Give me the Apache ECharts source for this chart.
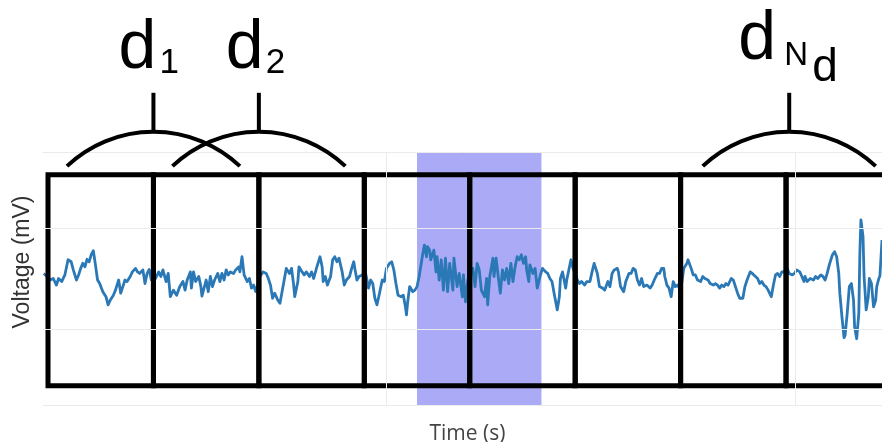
<!DOCTYPE html>
<html><head><meta charset="utf-8">
<script src="https://cdn.jsdelivr.net/npm/echarts@6/dist/echarts.min.js"></script>
<style>html,body{margin:0;padding:0;background:#fff}#c{width:882px;height:442px}</style>
</head><body><div id="c"></div>
<script>
// ---- data (time in s, voltage in mV) ----
const time = [
-0.04,-0.01,0.02,0.05,0.08,0.10,0.13,0.16,0.19,0.22,
0.24,0.27,0.29,0.31,0.33,0.35,0.37,0.39,0.41,0.43,
0.45,0.47,0.49,0.52,0.55,0.57,0.59,0.62,0.64,0.67,
0.69,0.71,0.73,0.75,0.78,0.80,0.83,0.85,0.87,0.90,
0.92,0.94,0.96,0.98,1.02,1.05,1.07,1.09,1.12,1.14,
1.16,1.19,1.22,1.25,1.28,1.30,1.32,1.35,1.36,1.38,
1.40,1.43,1.45,1.46,1.48,1.50,1.52,1.54,1.56,1.58,
1.61,1.63,1.65,1.67,1.69,1.71,1.73,1.76,1.78,1.81,
1.82,1.84,1.86,1.89,1.91,1.93,1.95,1.97,2.01,2.04,
2.07,2.09,2.11,2.13,2.15,2.18,2.20,2.22,2.24,2.26,
2.29,2.31,2.33,2.34,2.37,2.38,2.41,2.43,2.45,2.48,
2.50,2.52,2.55,2.58,2.60,2.61,2.63,2.65,2.68,2.70,
2.72,2.74,2.76,2.79,2.81,2.83,2.86,2.88,2.90,2.91,
2.93,2.95,2.98,3.01,3.04,3.06,3.08,3.10,3.12,3.14,
3.17,3.19,3.21,3.24,3.26,3.28,3.30,3.32,3.35,3.37,
3.39,3.40,3.41,3.43,3.46,3.48,3.50,3.52,3.55,3.57,
3.59,3.60,3.62,3.63,3.66,3.68,3.69,3.71,3.73,3.75,
3.77,3.79,3.81,3.84,3.85,3.88,3.90,3.93,3.94,3.96,
3.98,4.00,4.03,4.05,4.07,4.09,4.11,4.14,4.16,4.17,
4.19,4.22,4.23,4.25,4.27,4.29,4.31,4.33,4.35,4.37,
4.39,4.41,4.43,4.45,4.47,4.49,4.51,4.53,4.54,4.56,
4.57,4.60,4.62,4.64,4.67,4.69,4.72,4.74,4.76,4.78,
4.80,4.83,4.85,4.86,4.88,4.91,4.92,4.95,4.96,4.98,
5.02,5.04,5.06,5.09,5.11,5.14,5.16,5.18,5.21,5.23,
5.26,5.28,5.31,5.33,5.35,5.37,5.40,5.41,5.43,5.46,
5.48,5.51,5.53,5.55,5.57,5.59,5.61,5.63,5.65,5.68,
5.71,5.73,5.75,5.78,5.80,5.82,5.84,5.85,5.87,5.89,
5.91,5.93,5.95,5.97,5.99,6.01,6.03,6.06,6.07,6.10,
6.12,6.14,6.16,6.19,6.21,6.23,6.26,6.28,6.31,6.33,
6.35,6.37,6.39,6.41,6.43,6.45,6.48,6.50,6.52,6.54,
6.56,6.59,6.61,6.63,6.66,6.68,6.71,6.73,6.75,6.77,
6.79,6.81,6.83,6.86,6.88,6.90,6.92,6.94,6.96,6.98,
7.01,7.03,7.06,7.08,7.10,7.13,7.15,7.17,7.18,7.20,
7.23,7.26,7.28,7.30,7.33,7.35,7.37,7.39,7.41,7.44,
7.46,7.48,7.50,7.51,7.53,7.55,7.56,7.58,7.60,7.62,
7.64,7.65,7.67,7.69,7.70,7.71,7.73,7.74,7.76,7.78,
7.79,7.81,7.83,7.85,7.86,7.88,7.89,7.91
];
const voltage = [
0.10,0.04,-0.03,0.00,-0.13,0.00,-0.06,0.07,0.37,0.33,
0.17,-0.03,0.07,0.20,0.30,0.23,0.38,0.33,0.47,0.55,
0.27,-0.03,-0.10,-0.26,-0.36,-0.52,-0.43,-0.33,-0.23,-0.03,
-0.29,-0.16,-0.03,-0.06,0.04,0.13,0.20,0.13,0.10,0.17,
-0.10,0.10,0.18,-0.03,0.00,0.13,0.04,0.17,-0.06,0.10,
-0.36,-0.23,-0.33,-0.16,-0.06,-0.23,-0.03,0.13,-0.19,0.13,
-0.06,0.04,-0.16,-0.35,-0.19,-0.03,-0.26,0.04,-0.16,-0.03,
0.10,-0.06,0.10,-0.03,0.17,0.07,0.13,0.10,0.17,0.23,
0.13,0.43,0.07,-0.06,0.00,-0.19,-0.13,-0.26,0.04,0.13,
0.10,0.00,-0.13,-0.39,-0.29,-0.43,-0.49,-0.26,-0.03,0.20,
0.10,0.20,-0.13,-0.36,-0.06,0.23,0.13,0.07,0.13,0.04,
0.13,0.00,0.23,0.43,0.23,-0.06,0.04,-0.13,0.04,0.37,
0.43,0.33,0.40,0.13,-0.13,-0.03,0.04,0.20,0.33,0.20,
-0.03,0.04,0.07,0.13,-0.19,-0.03,-0.10,-0.39,-0.52,-0.33,
-0.03,-0.06,0.20,0.30,0.33,0.17,-0.10,-0.33,-0.36,-0.33,
-0.56,-0.72,-0.49,-0.16,-0.26,-0.23,-0.16,0.04,0.43,0.66,
0.43,0.63,0.56,0.37,0.56,0.13,0.43,-0.03,0.37,-0.23,
0.40,-0.26,0.30,-0.23,0.40,-0.16,0.10,-0.36,0.07,-0.46,
-0.06,0.17,0.20,-0.16,0.30,0.17,-0.23,-0.36,0.00,-0.52,
0.04,0.40,0.04,0.40,0.04,-0.29,0.17,-0.03,0.20,-0.10,
0.30,-0.06,0.23,0.43,0.37,0.47,0.30,0.43,0.17,-0.06,
0.27,0.10,0.20,-0.19,0.07,0.20,0.13,0.10,0.00,-0.06,
-0.29,-0.62,-0.36,0.00,0.13,-0.19,-0.03,0.27,0.37,0.20,
-0.03,-0.10,-0.06,-0.13,-0.06,-0.06,0.13,0.30,0.10,-0.16,
-0.19,-0.23,-0.06,-0.16,0.10,0.17,0.20,0.13,-0.16,-0.26,
-0.06,0.10,0.10,0.20,0.17,-0.03,-0.13,0.00,-0.16,-0.13,
-0.19,-0.13,-0.03,0.10,0.10,0.20,0.20,0.04,-0.13,-0.19,
-0.36,-0.06,-0.16,-0.13,-0.19,-0.10,0.20,0.30,0.37,0.20,
0.07,0.07,-0.03,-0.06,0.04,0.00,-0.03,-0.10,-0.13,-0.10,
-0.13,-0.19,-0.13,-0.16,-0.10,-0.13,0.00,-0.03,-0.16,-0.29,
-0.39,-0.39,-0.16,-0.03,0.13,0.10,0.04,0.00,-0.10,-0.06,
-0.13,-0.16,-0.23,-0.36,-0.13,0.07,0.10,0.04,0.13,0.13,
0.20,0.10,0.07,0.10,0.17,0.13,0.04,-0.06,0.04,-0.06,
0.00,-0.03,0.04,0.00,0.07,0.04,-0.03,0.10,0.27,0.47,
0.53,0.43,0.10,-0.29,-0.76,-1.17,-1.12,-0.69,-0.16,-0.10,
-0.43,-0.95,-1.19,-0.69,0.50,1.16,0.83,0.04,-0.62,-0.36,
0.00,-0.10,-0.56,-0.43,-0.16,0.00,0.05,0.76
];
const windowStarts = [0, 1, 2, 3, 4, 5, 6, 7];   // s
const windowLength = 1;                          // s
const highlightSpan = [3.5, 4.68];               // s
const gridTimes = [3.21, 7.09];                  // s
const gridVolts = [-2.5, -1, 1, 2.5];            // mV
const bracketCenters = [1.0, 2.0, 7.03];         // s
const bracketLabels = [['d', '1'], ['d', '2'], ['d', 'N', 'd']];
const xTitle = 'Time (s)';
const yTitle = 'Voltage (mV)';

// ---- geometry / style (not data) ----
const WIN_TOP = 2.05, WIN_BOTTOM = -2.12;
const BR_HALF = 0.82, BR_END = 2.22, BR_PEAK = 2.90, BR_STEM = 3.67;
const labelLayout = [
  [{dx: -35, dy: -21, size: 68}, {dx: 6, dy: -18, size: 35}],
  [{dx: -33, dy: -21, size: 68}, {dx: 7, dy: -18, size: 35}],
  [{dx: -51, dy: -30, size: 68}, {dx: -5, dy: -26, size: 33}, {dx: 23, dy: -9, size: 46}]
];
const FAMILY = 'Liberation Sans';

const chart = echarts.init(document.getElementById('c'), null, {renderer: 'canvas'});
const signal = time.map((t, i) => [t, voltage[i]]);

chart.setOption({
  animation: false,
  backgroundColor: '#fff',
  grid: {left: 42.73, right: 0, top: 152, bottom: 37, containLabel: false, outerBoundsMode: 'none'},
  xAxis: {
    type: 'value', min: -0.05, max: 7.91,
    axisLine: {show: false}, axisTick: {show: false}, axisLabel: {show: false}, splitLine: {show: false},
    name: xTitle, nameLocation: 'middle', nameGap: 19,
    nameTextStyle: {fontFamily: 'Open Sans', fontSize: 21, color: '#444', padding: [0, 0, 0, 10]}
  },
  yAxis: {
    type: 'value', min: -2.5, max: 2.5,
    axisLine: {show: false}, axisTick: {show: false}, axisLabel: {show: false}, splitLine: {show: false}
  },
  graphic: [{
    type: 'text', x: 23, y: 262, rotation: Math.PI / 2,
    style: {text: yTitle, fontFamily: FAMILY, fontSize: 23, fill: '#333', align: 'center', verticalAlign: 'middle'}
  }],
  series: [
    {
      type: 'line', data: [], z: 1, silent: true,
      markLine: {
        silent: true, symbol: ['none', 'none'], label: {show: false},
        lineStyle: {color: '#ebebeb', width: 1, type: 'solid'},
        data: gridTimes.map(t => ({xAxis: t})).concat(gridVolts.map(v => ({yAxis: v})))
      }
    },
    {
      type: 'line', data: [], z: 2, silent: true,
      markArea: {
        silent: true, itemStyle: {color: '#aaaaf6', opacity: 1},
        data: [[{xAxis: highlightSpan[0]}, {xAxis: highlightSpan[1]}]]
      }
    },
    {
      type: 'line', data: signal, z: 3, showSymbol: false, silent: true,
      lineStyle: {color: '#2a78b6', width: 2.8, join: 'round'}
    },
    {
      type: 'custom', z: 4, clip: false, silent: true,
      data: windowStarts.map(s => [s]),
      encode: {x: 0},
      renderItem: (params, api) => {
        const s = api.value(0);
        const p0 = api.coord([s, WIN_TOP]);
        const p1 = api.coord([s + windowLength, WIN_BOTTOM]);
        return {
          type: 'rect',
          shape: {x: p0[0], y: p0[1], width: p1[0] - p0[0], height: p1[1] - p0[1]},
          style: {fill: 'none', stroke: '#000', lineWidth: 5}
        };
      }
    },
    {
      type: 'custom', z: 5, clip: false, silent: true,
      data: bracketCenters.map(c => [c]),
      encode: {x: 0},
      renderItem: (params, api) => {
        const c = api.value(0);
        const L = api.coord([c - BR_HALF, BR_END]);
        const P = api.coord([c, BR_PEAK]);
        const R = api.coord([c + BR_HALF, BR_END]);
        const S = api.coord([c, BR_STEM]);
        const half = (R[0] - L[0]) / 2, sag = L[1] - P[1];
        const r = (half * half + sag * sag) / (2 * sag);
        const cx = P[0], cy = P[1] + r;
        const a1 = Math.atan2(L[1] - cy, L[0] - cx);
        const a2 = Math.atan2(R[1] - cy, R[0] - cx);
        const parts = bracketLabels[params.dataIndex];
        const lay = labelLayout[params.dataIndex];
        const children = [
          {type: 'arc', shape: {cx: cx, cy: cy, r: r, startAngle: a1, endAngle: a2, clockwise: true},
           style: {fill: 'none', stroke: '#000', lineWidth: 4}},
          {type: 'line', shape: {x1: P[0], y1: P[1] + 1, x2: S[0], y2: S[1]},
           style: {stroke: '#000', lineWidth: 4}}
        ];
        parts.forEach((txt, i) => {
          const l = lay[i];
          children.push({
            type: 'text',
            x: S[0] + l.dx, y: S[1] + l.dy - 0.33 * l.size,
            style: {text: txt, fontFamily: FAMILY, fontSize: l.size, fill: '#000', align: 'left', verticalAlign: 'middle'}
          });
        });
        return {type: 'group', children: children};
      }
    }
  ]
});
</script>
</body></html>
